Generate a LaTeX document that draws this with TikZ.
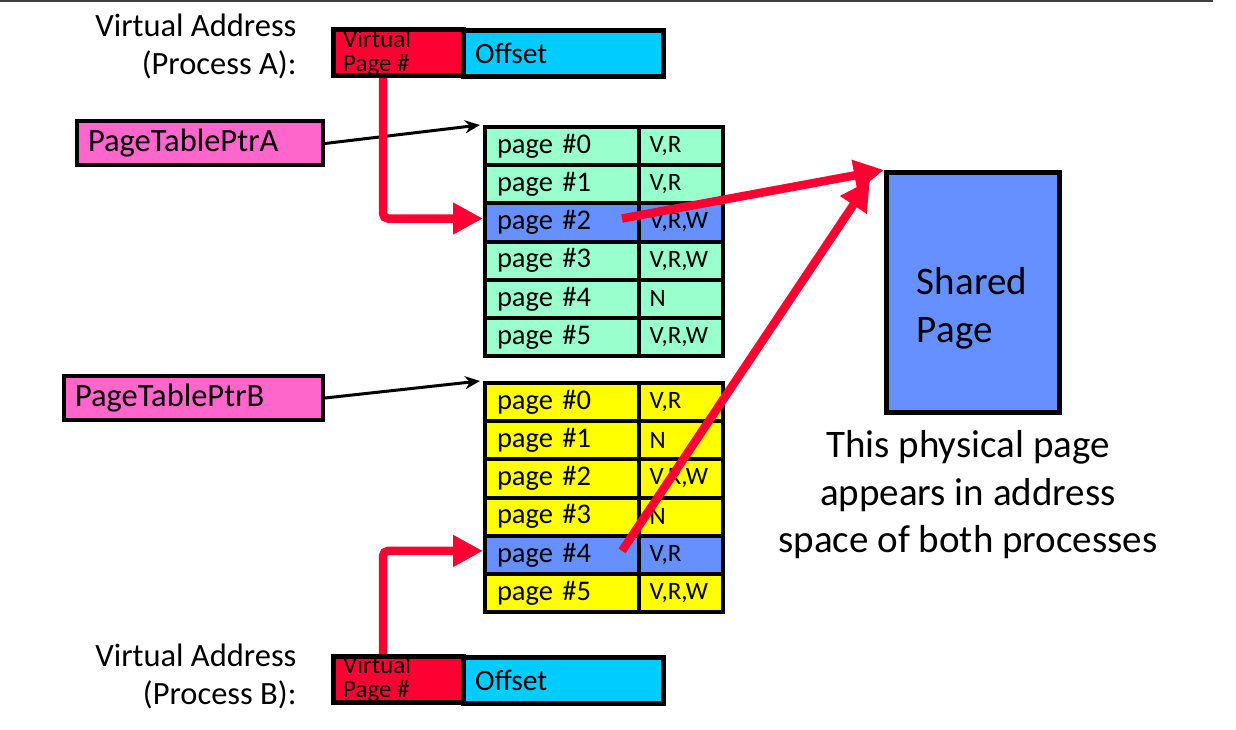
\documentclass[tikz,border=0pt]{standalone}
\usepackage{fontspec}
\setmainfont{Carlito}
\usetikzlibrary{arrows.meta}
\definecolor{vred}{HTML}{FF0033}
\definecolor{vcyan}{HTML}{00CCFF}
\definecolor{vpink}{HTML}{FF66CC}
\definecolor{vmint}{HTML}{99FFCC}
\definecolor{vyellow}{HTML}{FFFF00}
\definecolor{vblue}{HTML}{6690FF}
\tikzset{
  cell/.style={draw, line width=4pt, minimum height=38.2pt, inner xsep=12pt, inner ysep=0pt, align=left, font=\fontsize{28.5}{30}\selectfont},
  pagecell/.style={cell, text width=130pt},
  flagcell/.style={cell, text width=63pt, inner xsep=10.5pt, font=\fontsize{25}{27}\selectfont},
  ptrbox/.style={draw, line width=4pt, fill=vpink, minimum height=44pt, inner xsep=11pt, align=left, font=\fontsize{32.5}{34}\selectfont},
  vpnbox/.style={draw, line width=5pt, fill=vred, minimum width=130pt, minimum height=46pt, inner sep=0pt},
  vpntext/.style={anchor=west, inner sep=0pt, align=left, font=\fontsize{25}{24}\selectfont},
  offbox/.style={draw, line width=5pt, fill=vcyan, text width=176pt, minimum height=46pt, inner xsep=12pt, inner ysep=0pt, align=left, font=\fontsize{29.5}{31}\selectfont},
  vlabel/.style={align=right, font=\fontsize{32.5}{38.5}\selectfont},
  redarrow/.style={vred, line width=8.5pt, -{Triangle[length=30pt,width=30pt]}},
  ptrarrow/.style={line width=3pt, -{Stealth[length=15pt,width=13pt]}}
}
\begin{document}
\begin{tikzpicture}[x=1pt,y=-1pt]
\useasboundingbox (0,0) rectangle (1236,730);
\draw[line width=2pt, black!75] (0,1) -- (1213,1);

\node[vlabel, anchor=east] (labA) at (300,46.5) {Virtual Address\\(Process A):};
\node[vpnbox] (vpnA) at (398,52.5) {};
\node[vpntext] (vpnAtxt) at (343,53) {Virtual\\Page \#};
\node[offbox] (offA) at (563,53.5) {Offset};

\node[ptrbox, text width=224pt] (ptrA) at (200,143.5) {PageTablePtrA};
\node[ptrbox, text width=237pt] (ptrB) at (193.5,398) {PageTablePtrB};

\node[pagecell, fill=vmint] (pa0) at (562,146.1) {page \#0};
\node[flagcell, fill=vmint] (fa0) at (681,146.1) {V,R};
\node[pagecell, fill=vmint] (pa1) at (562,184.3) {page \#1};
\node[flagcell, fill=vmint] (fa1) at (681,184.3) {V,R};
\node[pagecell, fill=vblue] (pa2) at (562,222.5) {page \#2};
\node[flagcell, fill=vblue] (fa2) at (681,222.5) {V,R,W};
\node[pagecell, fill=vmint] (pa3) at (562,260.7) {page \#3};
\node[flagcell, fill=vmint] (fa3) at (681,260.7) {V,R,W};
\node[pagecell, fill=vmint] (pa4) at (562,298.9) {page \#4};
\node[flagcell, fill=vmint] (fa4) at (681,298.9) {N};
\node[pagecell, fill=vmint] (pa5) at (562,337.1) {page \#5};
\node[flagcell, fill=vmint] (fa5) at (681,337.1) {V,R,W};

\node[pagecell, fill=vyellow] (pb0) at (562,402.1) {page \#0};
\node[flagcell, fill=vyellow] (fb0) at (681,402.1) {V,R};
\node[pagecell, fill=vyellow] (pb1) at (562,440.3) {page \#1};
\node[flagcell, fill=vyellow] (fb1) at (681,440.3) {N};
\node[pagecell, fill=vyellow] (pb2) at (562,478.5) {page \#2};
\node[flagcell, fill=vyellow] (fb2) at (681,478.5) {V,R,W};
\node[pagecell, fill=vyellow] (pb3) at (562,516.7) {page \#3};
\node[flagcell, fill=vyellow] (fb3) at (681,516.7) {N};
\node[pagecell, fill=vblue] (pb4) at (562,554.9) {page \#4};
\node[flagcell, fill=vblue] (fb4) at (681,554.9) {V,R};
\node[pagecell, fill=vyellow] (pb5) at (562,593.1) {page \#5};
\node[flagcell, fill=vyellow] (fb5) at (681,593.1) {V,R,W};

\node[draw, line width=5pt, fill=vblue, minimum width=173pt, minimum height=240pt] (shared) at (973,292.5) {};
\node[align=left, font=\fontsize{39}{48}\selectfont] (sharedtxt) at (972,308) {Shared\\Page};
\node[align=center, font=\fontsize{39}{47.5}\selectfont] (note) at (968,495) {This physical page\\appears in address\\space of both processes};

\node[vlabel, anchor=east] (labB) at (300,676.5) {Virtual Address\\(Process B):};
\node[vpnbox] (vpnB) at (398,679.5) {};
\node[vpntext] (vpnBtxt) at (343,679) {Virtual\\Page \#};
\node[offbox] (offB) at (563,680.5) {Offset};

\draw[ptrarrow] (ptrA.east) -- ([xshift=-3pt]pa0.north west);
\draw[ptrarrow] (ptrB.east) -- ([xshift=-3pt]pb0.north west);

\coordinate (downA) at ([xshift=-15pt]vpnA.south);
\coordinate (upB) at ([xshift=-15pt]vpnB.north);
\coordinate (fromA) at ([xshift=-19pt,yshift=4pt]pa2.east);
\coordinate (fromB) at ([xshift=-19pt,yshift=4pt]pb4.east);
\draw[redarrow, rounded corners=5pt] (downA) |- ([yshift=4pt]pa2.west);
\draw[redarrow, rounded corners=5pt] (upB) |- ([yshift=4pt]pb4.west);
\draw[redarrow] (fromA) -- (shared.north west);
\draw[redarrow] (fromB) -- ([xshift=-14pt,yshift=-10pt]shared.north west);
\end{tikzpicture}
\end{document}
